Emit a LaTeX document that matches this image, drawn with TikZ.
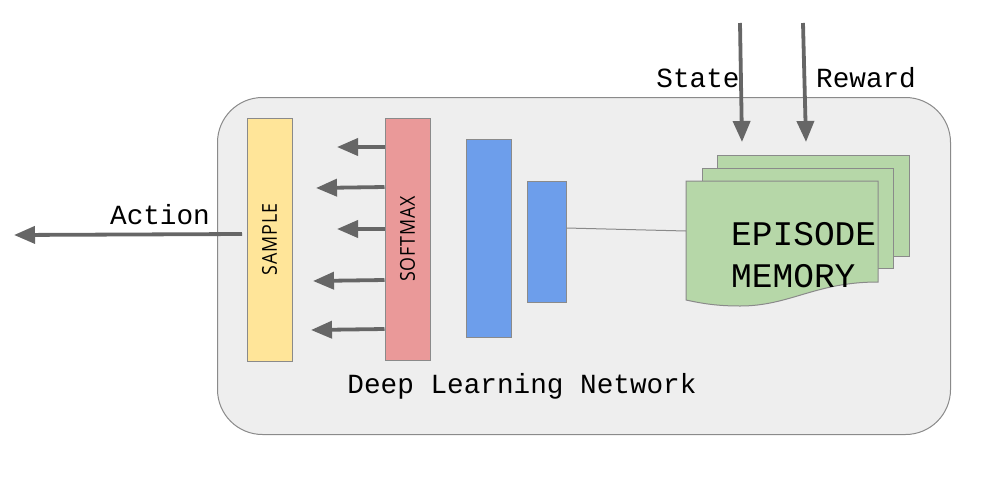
\documentclass[tikz,border=0pt]{standalone}
\usepackage{fontspec}
\setmainfont{Liberation Mono}
\newfontfamily\boxfont[FakeStretch=0.87,LetterSpace=4]{Open Sans}
\usetikzlibrary{arrows.meta}
\definecolor{bgfill}{HTML}{EEEEEE}
\definecolor{edge}{HTML}{8A8A8A}
\definecolor{arrgray}{HTML}{666666}
\definecolor{yel}{HTML}{FFE599}
\definecolor{pink}{HTML}{EA9999}
\definecolor{blu}{HTML}{6D9EEB}
\definecolor{grn}{HTML}{B6D7A8}
\tikzset{
  layer/.style={draw=edge, line width=1pt, inner sep=0pt, anchor=center},
  arr/.style={draw=arrgray, line width=3.8pt, -{Triangle[length=21pt,width=17pt]}},
  lbl/.style={font=\fontsize{27.7}{30}\selectfont, inner sep=0pt},
  vtxt/.style={font=\boxfont\fontsize{20.5}{24}\selectfont, rotate=90}
}
\begin{document}
\begin{tikzpicture}[x=1pt,y=-1pt]
\useasboundingbox (0,0) rectangle (982,480);
% container
\node[draw=edge, line width=1pt, fill=bgfill, rounded corners=45pt, minimum width=733pt, minimum height=337pt, anchor=north west, inner sep=0pt] (net) at (217,97) {};
\node[lbl, anchor=base] (netlbl) at (522,393) {Deep Learning Network};
% layers
\node[layer, fill=yel, minimum width=45pt, minimum height=243pt] (sample) at (269.5,239.5) {};
\node[vtxt] at (sample.center) {SAMPLE};
\node[layer, fill=pink, minimum width=45pt, minimum height=242pt] (softmax) at (407.5,239) {};
\node[vtxt] at (softmax.center) {SOFTMAX};
\node[layer, fill=blu, minimum width=45pt, minimum height=198pt] (h1) at (488.5,238) {};
\node[layer, fill=blu, minimum width=39pt, minimum height=121pt] (h2) at (546.5,241.5) {};
% episode memory stack
\fill[grn, draw=edge, line width=1pt] (717,155) rectangle (909,256);
\fill[grn, draw=edge, line width=1pt] (702,168) rectangle (893,268);
\filldraw[fill=grn, draw=edge, line width=1pt] (686,181) -- (878,181) -- (878,282)
  .. controls (815,282) and (790,306) .. (740,306)
  .. controls (715,306) and (700,303) .. (686,300) -- cycle;
\coordinate (mem) at (686,231);
\node[inner sep=0pt, anchor=base west, font=\fontsize{34.5}{42}\selectfont] (ep1) at (731,245) {EPISODE};
\node[inner sep=0pt, anchor=base west, font=\fontsize{34.5}{42}\selectfont] (ep2) at (731,287) {MEMORY};
\draw[draw=edge, line width=1pt] (h2.east |- 0,228) -- (mem);
% outputs of softmax
\coordinate (o1) at (337,147);
\coordinate (o2) at (316,188);
\coordinate (o3) at (337,229);
\coordinate (o4) at (313,281);
\coordinate (o5) at (311,330);
\draw[arr] (softmax.west |- 0,147) -- (o1);
\draw[arr] (softmax.west |- 0,187) -- (o2);
\draw[arr] (softmax.west |- 0,229) -- (o3);
\draw[arr] (softmax.west |- 0,280) -- (o4);
\draw[arr] (softmax.west |- 0,329) -- (o5);
% action
\coordinate (act) at (14,235);
\draw[arr] (242,234) -- (act);
\node[lbl, anchor=base] (actlbl) at (160,224) {Action};
% state and reward
\coordinate (s0) at (740,23);
\coordinate (r0) at (803,23);
\draw[arr] (s0) -- (742,142);
\draw[arr] (r0) -- (806,142);
\node[lbl, anchor=base] (slbl) at (698,87) {State};
\node[lbl, anchor=base] (rlbl) at (866,87) {Reward};
\end{tikzpicture}
\end{document}
